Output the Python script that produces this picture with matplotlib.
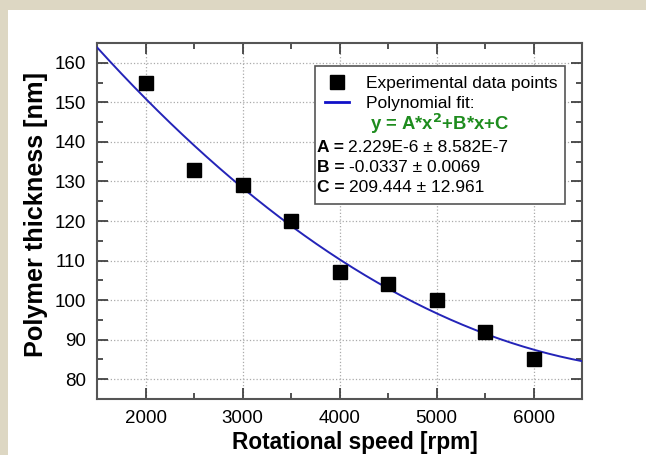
import numpy as np
import matplotlib
matplotlib.use("Agg")
import matplotlib.pyplot as plt
from matplotlib.patches import Rectangle
from matplotlib.lines import Line2D
from matplotlib.ticker import MultipleLocator

plt.rcParams['font.family'] = ['Liberation Sans', 'DejaVu Sans']

# measured points
speed_rpm = [2000, 2500, 3000, 3500, 4000, 4500, 5000, 5500, 6000]
thickness_nm = [155, 133, 129, 120, 107, 104, 100, 92, 85]

# fit coefficients as printed on the chart
fit_A = 2.229e-6
fit_B = -0.0337
fit_C = 209.444
fit_text = ["2.229E-6 \u00b1 8.582E-7", "-0.0337 \u00b1 0.0069", "209.444 \u00b1 12.961"]

fig = plt.figure(figsize=(6.46, 4.55), dpi=100, facecolor='#ddd7c3')
fig.patches.append(Rectangle((8 / 646, 0), 1, 1 - 10 / 455, transform=fig.transFigure,
                             facecolor='white', edgecolor='none', zorder=-5))
ax = fig.add_axes([97 / 646, 1 - 399 / 455, 485 / 646, 356 / 455])

xs = np.linspace(1500, 6500, 200)
ax.plot(xs, np.polyval([fit_A, fit_B, fit_C], xs), color='#2424b8', lw=1.4, zorder=3)
ax.plot(speed_rpm, thickness_nm, 's', color='black', ms=10, zorder=4)

ax.set_xlim(1500, 6500)
ax.set_ylim(75, 165)
ax.xaxis.set_major_locator(MultipleLocator(1000))
ax.xaxis.set_minor_locator(MultipleLocator(500))
ax.yaxis.set_major_locator(MultipleLocator(10))
ax.yaxis.set_minor_locator(MultipleLocator(5))
ax.tick_params(which='both', direction='in', top=True, right=True, color='#333333', width=1.2)
ax.tick_params(which='major', length=8, labelsize=13.5, pad=8)
ax.tick_params(which='minor', length=4)
ax.grid(True, which='major', ls=':', color='#aaaaaa', lw=0.9)
for s in ax.spines.values():
    s.set_color('#555555')
    s.set_linewidth(1.5)

ax.set_xlabel('Rotational speed [rpm]', fontsize=16.3, fontweight='bold', labelpad=3)
ax.xaxis.label.set_x(0.531)
ax.set_ylabel('Polymer thickness [nm]', fontsize=18.2, fontweight='bold', labelpad=5)
ax.yaxis.label.set_y(0.517)

# legend box
box = Rectangle((315, 455 - 204), 250, 138, transform=None, facecolor='white',
                edgecolor='#555555', lw=1.2, zorder=5)
ax.add_artist(box)
handles = [Line2D([], [], marker='s', ls='none', color='black', ms=10),
           Line2D([], [], color='#1010c8', lw=2)]
leg = ax.legend(handles, ['Experimental data points', 'Polynomial fit:'],
                loc='upper left', bbox_to_anchor=(316 / 646, 1 - 67 / 455),
                bbox_transform=fig.transFigure, frameon=False, fontsize=12.5,
                handlelength=1.4, handletextpad=1.0, labelspacing=0.3, borderpad=0)
leg.set_zorder(7)
fig.text(440 / 646, 1 - 124 / 455, 'y = A*x$^\\mathbf{2}$+B*x+C', color='#1e8c1e',
         fontsize=13.3, fontweight='bold', ha='center', va='center', zorder=6)
for i, (name, val) in enumerate(zip(['A', 'B', 'C'], fit_text)):
    y = 1 - (147 + 20 * i) / 455
    t = fig.text(317 / 646, y, name + ' =', fontsize=12.5, fontweight='bold',
                 ha='left', va='center', zorder=6)
    fig.canvas.draw()
    bb = t.get_window_extent()
    fig.text((bb.x1 + 4) / 646, y, val, fontsize=12.5, ha='left', va='center', zorder=6)

fig.savefig('out.png', dpi=100, facecolor=fig.get_facecolor())
